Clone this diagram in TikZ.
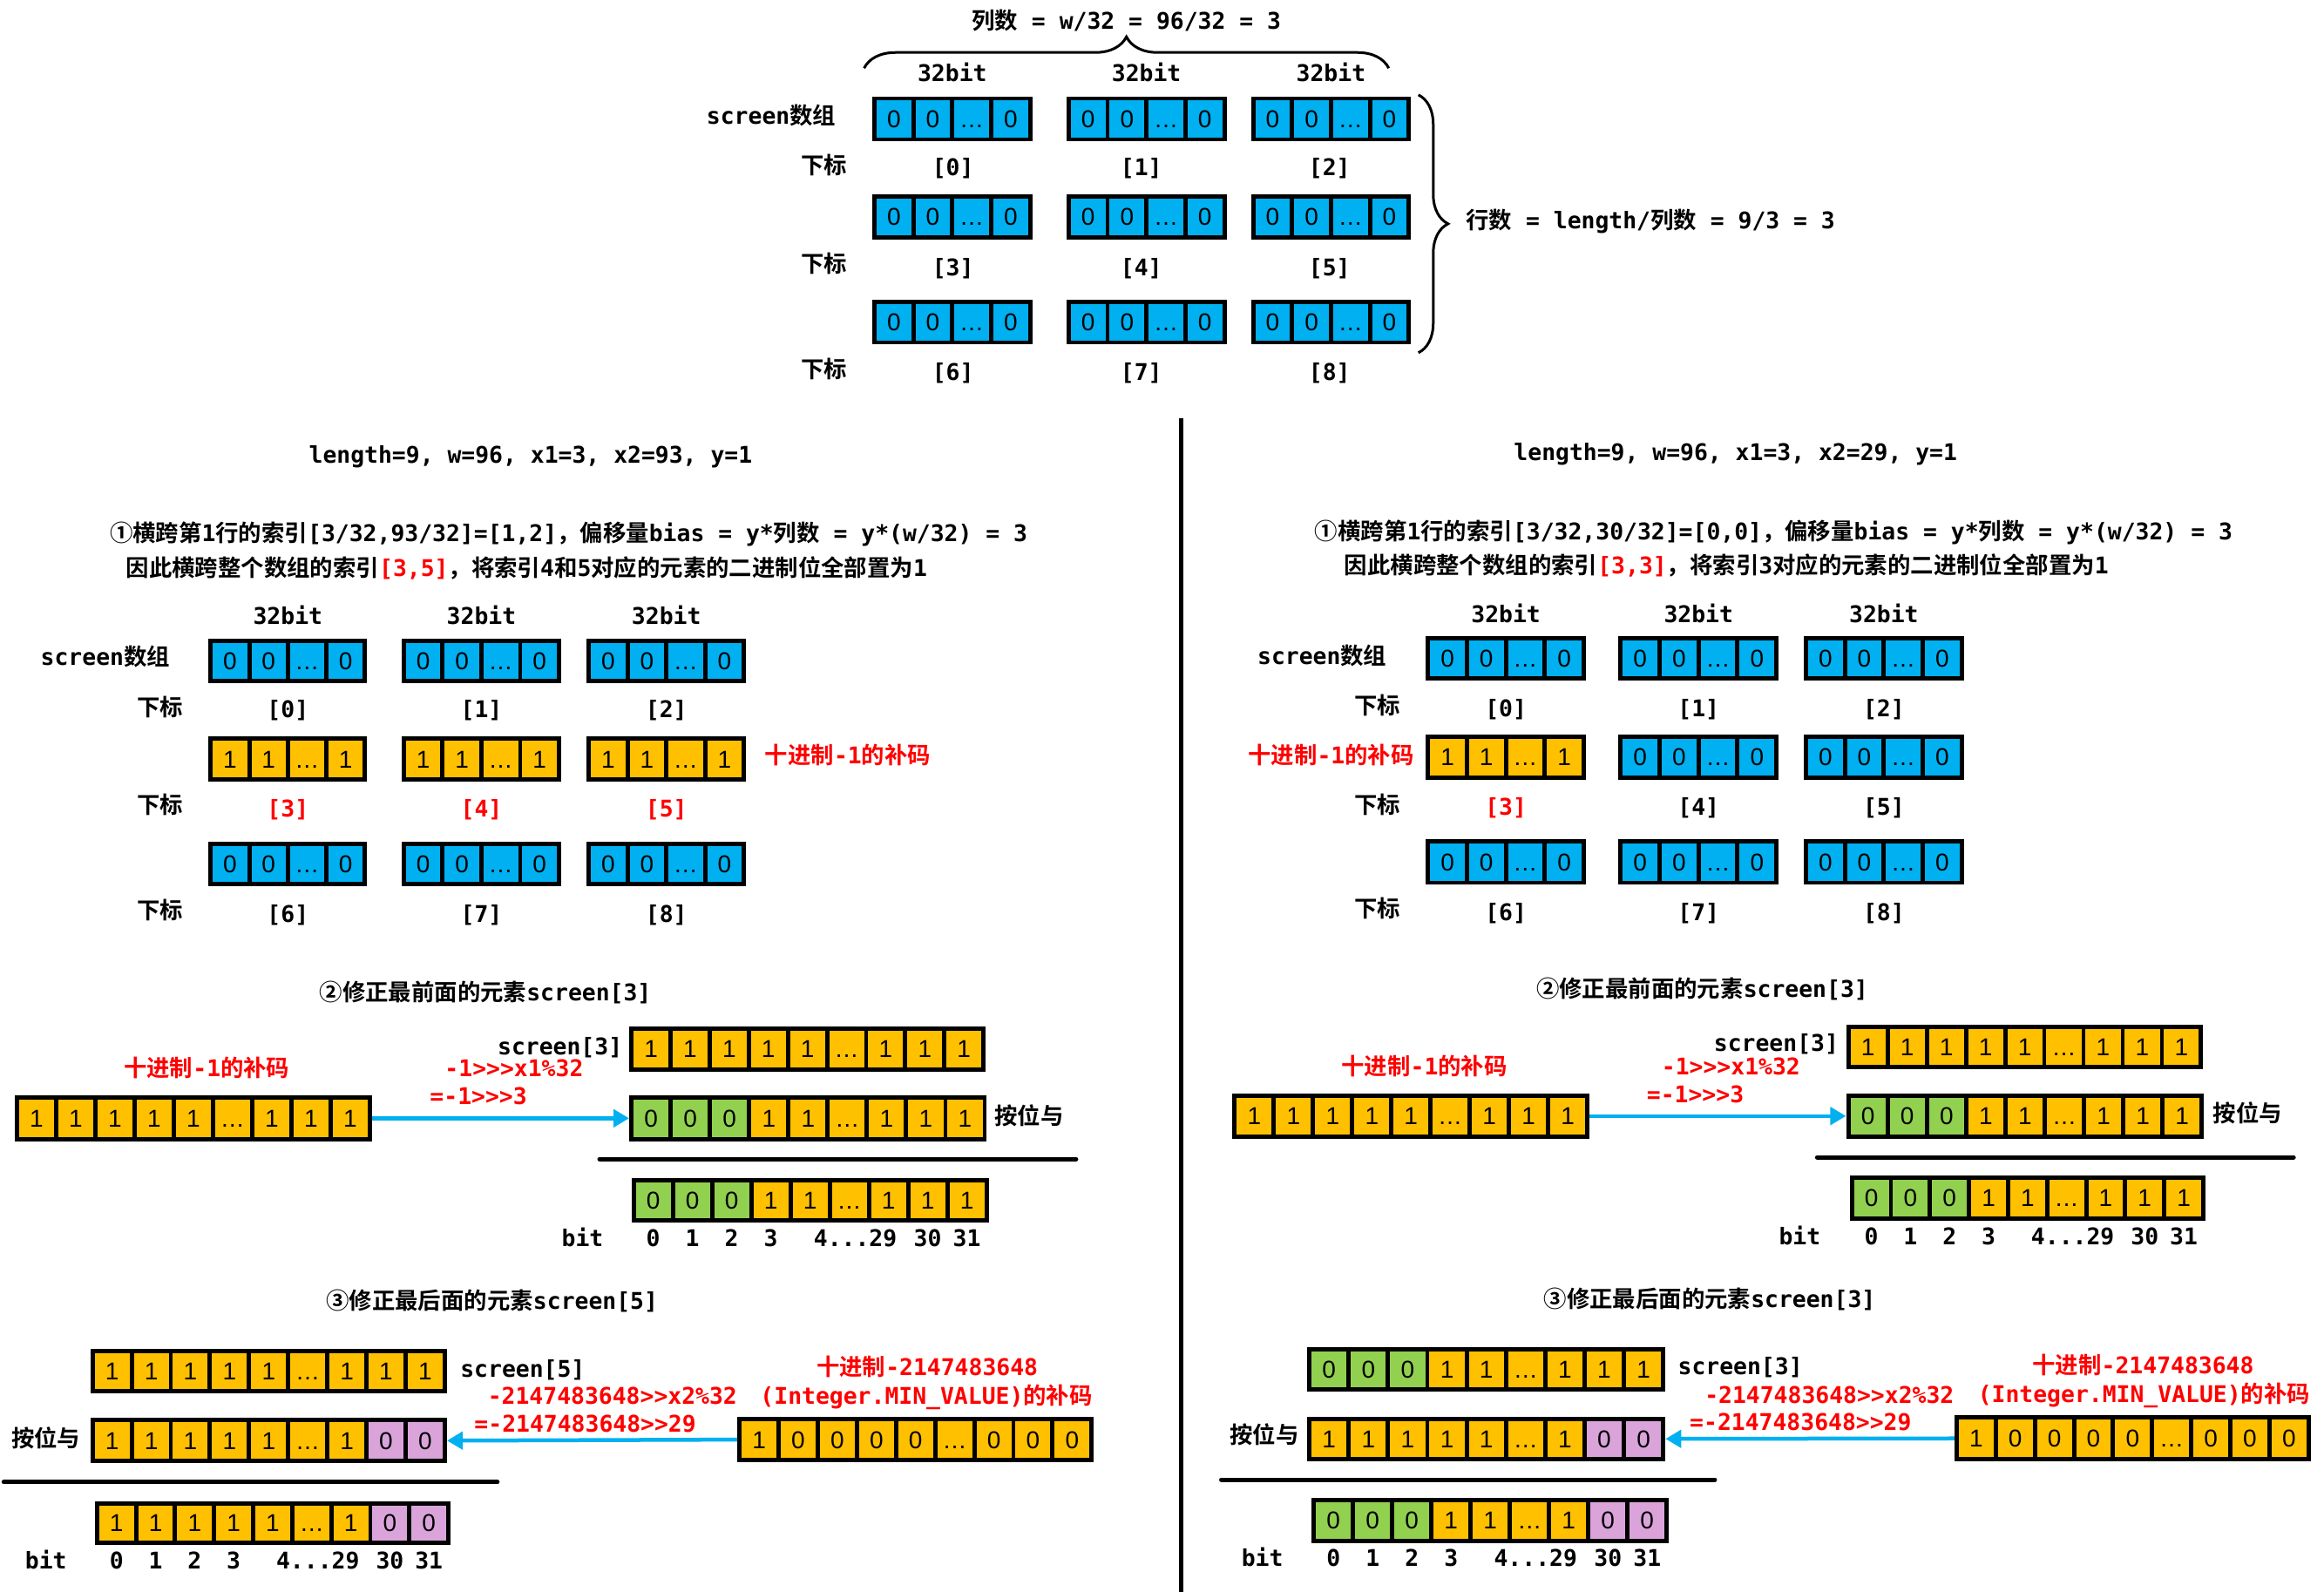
\documentclass[tikz,border=0pt]{standalone}
\usepackage{fontspec}
\setmainfont{DejaVu Sans Mono}[UprightFont=* Bold]
\newfontfamily\latf{DejaVu Sans Mono}[UprightFont=* Bold]
\newfontfamily\cjkf{Noto Sans CJK SC}[UprightFont=* Bold, Scale=1.0]
\newfontfamily\cellf{Liberation Sans}
\usetikzlibrary{fit,arrows.meta,decorations.pathreplacing}

\newcount\ccnt
\newXeTeXintercharclass\cjkcls
\def\setcls#1#2{\ccnt=#1\relax\loop\XeTeXcharclass\ccnt=\cjkcls\relax\advance\ccnt by 1\relax\ifnum\ccnt<#2\relax\repeat}
\setcls{"4E00}{"A000}
\setcls{"3000}{"3040}
\setcls{"FF00}{"FFF0}
\setcls{"2460}{"2500}
\XeTeXinterchartoks 0 \cjkcls = {\cjkf}
\XeTeXinterchartoks 4095 \cjkcls = {\cjkf}
\XeTeXinterchartoks \cjkcls 0 = {\latf}
\XeTeXinterchartoks \cjkcls 4095 = {\latf}
\XeTeXinterchartoks 4095 0 = {\latf}
\XeTeXinterchartokenstate=1

\definecolor{cblue}{HTML}{00B0F0}
\definecolor{cyel}{HTML}{FFC000}
\definecolor{cgrn}{HTML}{92D050}
\definecolor{cpur}{HTML}{DAA4DB}
\definecolor{cred}{HTML}{FF0000}

\tikzset{
  lbl/.style={inner sep=0pt, font=\fontsize{26.4}{29}\selectfont, text height=19pt, text depth=5pt},
  rlbl/.style={lbl, text=cred},
  grp/.style={fill=black, inner sep=0pt},
  celltxt/.style={inner sep=0pt, font={\XeTeXinterchartokenstate=0 \cellf\fontsize{28}{30}\selectfont}, text height=20pt, text depth=0pt},
  arr/.style={draw=cblue, line width=4.5pt, -{Triangle[length=18pt,width=20pt]}},
  sepline/.style={line width=5pt, line cap=round},
  brc/.style={line width=3pt, decorate},
}

\def\LB{cblue/0,cblue/0,cblue/…,cblue/0}
\def\LY{cyel/1,cyel/1,cyel/…,cyel/1}
\def\LYnine{cyel/1,cyel/1,cyel/1,cyel/1,cyel/1,cyel/…,cyel/1,cyel/1,cyel/1}
\def\LGY{cgrn/0,cgrn/0,cgrn/0,cyel/1,cyel/1,cyel/…,cyel/1,cyel/1,cyel/1}
\def\LYP{cyel/1,cyel/1,cyel/1,cyel/1,cyel/1,cyel/…,cyel/1,cpur/0,cpur/0}
\def\LMIN{cyel/1,cyel/0,cyel/0,cyel/0,cyel/0,cyel/…,cyel/0,cyel/0,cyel/0}
\def\LGYP{cgrn/0,cgrn/0,cgrn/0,cyel/1,cyel/1,cyel/…,cyel/1,cpur/0,cpur/0}

\newcommand\cellgroup[6]{%
  \node[grp, fit={(#2,#3) (#4,#5)}] (#1) {};
  \edef\cglist{#6}%
  \foreach \cfill/\ctext [count=\ii] in \cglist {\xdef\cgn{\ii}}%
  \pgfmathsetmacro\cgw{((#4)-(#2)-(\cgn+1)*2.9)/\cgn}%
  \foreach \cfill/\ctext [count=\ii from 0] in \cglist {%
    \pgfmathsetmacro\cgl{#2+2.9+\ii*(\cgw+2.9)}%
    \pgfmathsetmacro\cgr{\cgl+\cgw}%
    \fill[\cfill] (\cgl,#3+2.9) rectangle (\cgr,#5-2.9);
    \node[celltxt] (#1c\ii) at ({(\cgl+\cgr)/2},{(#3+#5)/2}) {\ctext};
  }%
}
\newcommand\bitlabels[3]{%
  \node[lbl] (#1bit) at (#3,#2) {bit};
  \foreach \k/\v in {0/0,1/1,2/2,3/3,7/30,8/31} {\node[lbl] (#1n\k) at (#1c\k |- 0,#2) {\v};}
  \node[lbl, xshift=7pt] (#1n5) at (#1c5 |- 0,#2) {4...29};
}

\begin{document}
\begin{tikzpicture}[x=1.7009pt,y=-1.7009pt]
\useasboundingbox (0,0) rectangle (1568,1074);
\fill[white] (0,0) rectangle (1568,1074);

% ===== top =====
\node[lbl] (title) at (760,15.5) {列数 = w/32 = 96/32 = 3};
\draw[brc, decoration={brace,amplitude=36pt}] (583,46) -- (937,46);
\foreach \r/\ya/\yb in {1/65/95.5, 2/131/161.5, 3/202/232.5}
  \foreach \c/\xa/\xb in {1/588.5/696.5, 2/719.5/827.5, 3/844/952}
    {\cellgroup{t\r\c}{\xa}{\ya}{\xb}{\yb}{\LB}}
\foreach \c in {1,2,3} {\node[lbl] (tb\c) at (t1\c |- 0,51) {32bit};}
\node[lbl, anchor=east] (tscr) at (564,79.5) {screen数组};
\foreach \r/\y in {1/113,2/179.5,3/251} {\node[lbl] (txb\r) at (556,\y) {下标};}
\foreach \r/\y/\a/\b/\c in {1/114.6/0/1/2, 2/181.8/3/4/5, 3/252.4/6/7/8}
  {\node[lbl] (ti\a) at (643,\y) {[\a]};
   \node[lbl] (ti\b) at (770,\y) {[\b]};
   \node[lbl] (ti\c) at (897,\y) {[\c]};}
\draw[brc, decoration={brace,amplitude=34pt}] (957,64) -- (957,238);
\node[lbl, anchor=west] (trows) at (989,150) {行数 = length/列数 = 9/3 = 3};

% divider
\draw[line width=4.5pt] (797,282) -- (797,1074);

% ===== left middle =====
\node[lbl] (Llen) at (358,308.6) {length=9, w=96, x1=3, x2=93, y=1};
\node[lbl, anchor=west] (Ll1) at (74,361) {①横跨第1行的索引[3/32,93/32]=[1,2]，偏移量bias = y*列数 = y*(w/32) = 3};
\node[lbl, anchor=west] (Ll2) at (85,384.6) {因此横跨整个数组的索引\textcolor{cred}{[3,5]}，将索引4和5对应的元素的二进制位全部置为1};
\foreach \c/\xa/\xb in {1/140.7/247.7, 2/271/378.6, 3/395.8/503.4}
  {\cellgroup{L1\c}{\xa}{431}{\xb}{461}{\LB}
   \cellgroup{L2\c}{\xa}{497}{\xb}{527.4}{\LY}
   \cellgroup{L3\c}{\xa}{568}{\xb}{598}{\LB}}
\foreach \c in {1,2,3} {\node[lbl] (Lb\c) at (L1\c |- 0,417) {32bit};}
\node[lbl] (Lscr) at (71,445) {screen数组};
\foreach \r/\y in {1/478.7,2/544.8,3/615.6} {\node[lbl] (Lxb\r) at (108,\y) {下标};}
\foreach \c/\a in {1/0,2/1,3/2} {\node[lbl] (Li\a) at (L1\c |- 0,480) {[\a]};}
\foreach \c/\a in {1/3,2/4,3/5} {\node[rlbl] (Li\a) at (L2\c |- 0,547) {[\a]};}
\foreach \c/\a in {1/6,2/7,3/8} {\node[lbl] (Li\a) at (L3\c |- 0,618) {[\a]};}
\node[rlbl, anchor=west] (Lneg) at (516,511) {十进制-1的补码};

% ===== right middle =====
\node[lbl] (Rlen) at (1171,306.6) {length=9, w=96, x1=3, x2=29, y=1};
\node[lbl, anchor=west] (Rl1) at (887,360) {①横跨第1行的索引[3/32,30/32]=[0,0]，偏移量bias = y*列数 = y*(w/32) = 3};
\node[lbl, anchor=west] (Rl2) at (907,383) {因此横跨整个数组的索引\textcolor{cred}{[3,3]}，将索引3对应的元素的二进制位全部置为1};
\foreach \c/\xa/\xb in {1/962/1070, 2/1092/1200, 3/1217/1325}
  {\cellgroup{R1\c}{\xa}{429}{\xb}{459}{\LB}
   \cellgroup{R3\c}{\xa}{566}{\xb}{597}{\LB}}
\cellgroup{R21}{962}{495.6}{1070}{526}{\LY}
\cellgroup{R22}{1092}{495.6}{1200}{526}{\LB}
\cellgroup{R23}{1217}{495.6}{1325}{526}{\LB}
\foreach \c in {1,2,3} {\node[lbl] (Rb\c) at (R1\c |- 0,415.8) {32bit};}
\node[lbl] (Rscr) at (892,443.9) {screen数组};
\foreach \r/\y in {1/477.5,2/544.6,3/614.7} {\node[lbl] (Rxb\r) at (929.3,\y) {下标};}
\foreach \c/\a in {1/0,2/1,3/2} {\node[lbl] (Ri\a) at (R1\c |- 0,479.3) {[\a]};}
\node[rlbl] (Ri3) at (R21 |- 0,546) {[3]};
\foreach \c/\a in {2/4,3/5} {\node[lbl] (Ri\a) at (R2\c |- 0,546) {[\a]};}
\foreach \c/\a in {1/6,2/7,3/8} {\node[lbl] (Ri\a) at (R3\c |- 0,616.9) {[\a]};}
\node[rlbl] (Rneg) at (898,511) {十进制-1的补码};

% ===== left step 2 =====
\node[lbl] (L2t) at (327.5,671) {②修正最前面的元素screen[3]};
\cellgroup{Lsa}{424.6}{692.6}{665}{722.9}{\LYnine}
\node[lbl, anchor=east] (Lss) at (420,707.5) {screen[3]};
\node[rlbl] (Lsn) at (139.5,722) {十进制-1的补码};
\cellgroup{Lsl}{10}{739}{251}{770}{\LYnine}
\cellgroup{Lsm}{424.6}{739}{665.8}{770}{\LGY}
\draw[arr] (Lsl.east) -- (Lsm.west);
\node[rlbl, anchor=west] (Lse1) at (300,722) {-1>>>x1\%32};
\node[rlbl, anchor=west] (Lse2) at (290,741) {=-1>>>3};
\node[lbl, anchor=west] (Lsand) at (671,754.5) {按位与};
\draw[sepline] (404.5,782) -- (726,782);
\cellgroup{Lsr}{426}{794.7}{667}{825}{\LGY}
\bitlabels{Lsr}{836.7}{393}

% ===== left step 3 =====
\node[lbl] (L3t) at (332,879) {③修正最后面的元素screen[5]};
\cellgroup{Lta}{61}{910}{301.5}{940}{\LYnine}
\node[lbl, anchor=west] (Lts) at (310.5,924.8) {screen[5]};
\cellgroup{Ltb}{61}{956.7}{301.5}{987.3}{\LYP}
\node[lbl] (Ltand) at (31,972) {按位与};
\cellgroup{Ltc}{497.5}{956}{738}{986.6}{\LMIN}
\draw[arr] (Ltc.west) -- (Ltb.east);
\node[rlbl] (Ltn1) at (625.6,924) {十进制-2147483648};
\node[rlbl] (Ltn2) at (625,943.6) {(Integer.MIN\_VALUE)的补码};
\node[rlbl, anchor=west] (Lte1) at (329,943.6) {-2147483648>>x2\%32};
\node[rlbl, anchor=west] (Lte2) at (320,962) {=-2147483648>>29};
\draw[sepline] (2.5,1000) -- (335.6,1000);
\cellgroup{Ltr}{64}{1012.8}{304}{1042.5}{\LYP}
\bitlabels{Ltr}{1054.3}{31}

% ===== right step 2 =====
\node[lbl] (R2t) at (1148.5,669) {②修正最前面的元素screen[3]};
\cellgroup{Rsa}{1245.6}{691.4}{1486.5}{721.6}{\LYnine}
\node[lbl, anchor=east] (Rss) at (1240.6,705.5) {screen[3]};
\node[rlbl] (Rsn) at (961,721) {十进制-1的补码};
\cellgroup{Rsl}{831.6}{737.8}{1072.4}{768.2}{\LYnine}
\cellgroup{Rsm}{1245.6}{737.8}{1487}{768.2}{\LGY}
\draw[arr] (Rsl.east) -- (Rsm.west);
\node[rlbl, anchor=west] (Rse1) at (1121,721) {-1>>>x1\%32};
\node[rlbl, anchor=west] (Rse2) at (1111,739.8) {=-1>>>3};
\node[lbl, anchor=west] (Rsand) at (1493,752.6) {按位与};
\draw[sepline] (1226,780.8) -- (1547.5,780.8);
\cellgroup{Rsr}{1248}{793}{1488}{823.7}{\LGY}
\bitlabels{Rsr}{835.8}{1214.3}

% ===== right step 3 =====
\node[lbl] (R3t) at (1153.5,877.9) {③修正最后面的元素screen[3]};
\cellgroup{Rta}{882}{908.7}{1123.6}{939}{\LGY}
\node[lbl, anchor=west] (Rts) at (1132,923.4) {screen[3]};
\cellgroup{Rtb}{882}{955.8}{1123.6}{985.8}{\LYP}
\node[lbl] (Rtand) at (853,970) {按位与};
\cellgroup{Rtc}{1318.7}{955}{1559}{986}{\LMIN}
\draw[arr] (Rtc.west) -- (Rtb.east);
\node[rlbl] (Rtn1) at (1446,922.5) {十进制-2147483648};
\node[rlbl] (Rtn2) at (1446.5,942.2) {(Integer.MIN\_VALUE)的补码};
\node[rlbl, anchor=west] (Rte1) at (1150,943) {-2147483648>>x2\%32};
\node[rlbl, anchor=west] (Rte2) at (1140,961) {=-2147483648>>29};
\draw[sepline] (824,998.3) -- (1157,998.3);
\cellgroup{Rtr}{885}{1010.7}{1126}{1041}{\LGYP}
\bitlabels{Rtr}{1052.4}{851.7}
\end{tikzpicture}
\end{document}
